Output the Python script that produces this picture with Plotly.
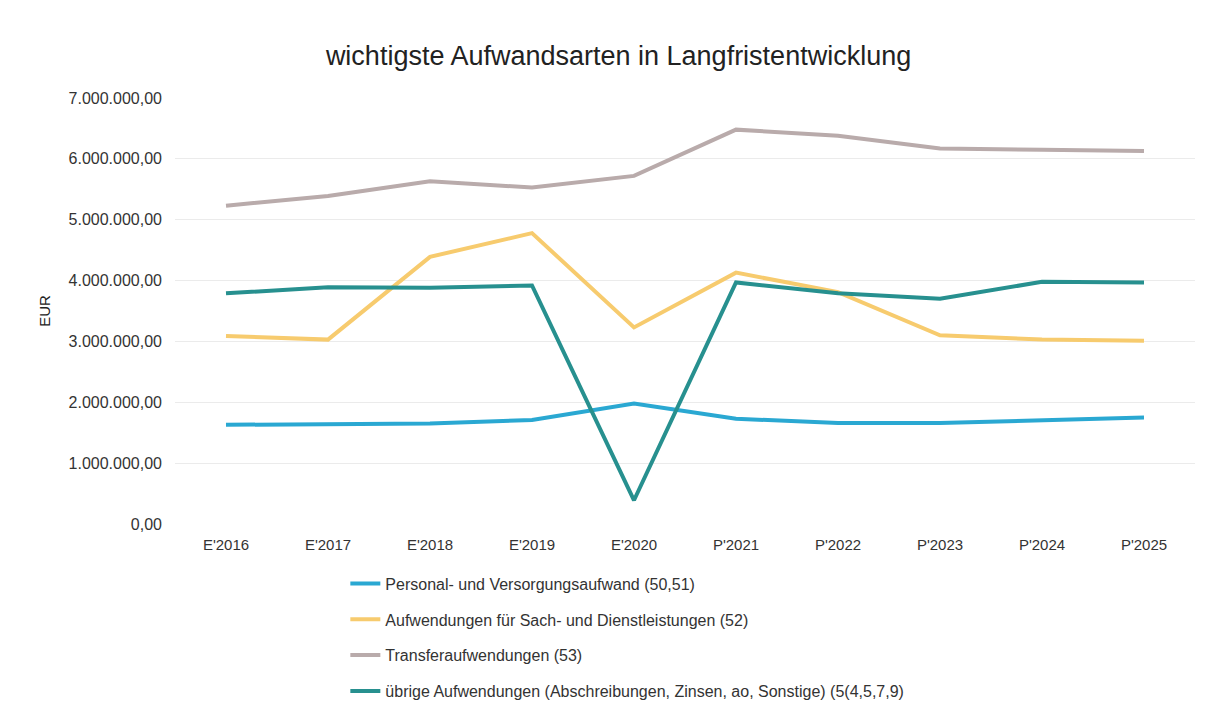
import plotly.graph_objects as go

categories = ["E'2016", "E'2017", "E'2018", "E'2019", "E'2020",
              "P'2021", "P'2022", "P'2023", "P'2024", "P'2025"]

personal = [1630000, 1640000, 1650000, 1710000, 1980000,
            1730000, 1660000, 1660000, 1700000, 1750000]
sach = [3090000, 3030000, 4390000, 4780000, 3230000,
        4130000, 3810000, 3100000, 3030000, 3010000]
transfer = [5230000, 5390000, 5630000, 5530000, 5720000,
            6480000, 6380000, 6170000, 6150000, 6130000]
uebrige = [3790000, 3890000, 3880000, 3920000, 390000,
           3970000, 3790000, 3700000, 3980000, 3970000]

names = ["Personal- und Versorgungsaufwand (50,51)",
         "Aufwendungen für Sach- und Dienstleistungen (52)",
         "Transferaufwendungen (53)",
         "übrige Aufwendungen (Abschreibungen, Zinsen, ao, Sonstige) (5(4,5,7,9)"]
colors = ["#2AA8D2", "#F7CB6E", "#B9ABAB", "#27908F"]
series = [personal, sach, transfer, uebrige]

fig = go.Figure()
for i, (n, c, s) in enumerate(zip(names, colors, series)):
    fig.add_trace(go.Scatter(x=categories, y=s, name=n, mode="lines",
                             line=dict(color=c, width=4),
                             legendgroup=f"g{i}"))

fig.update_layout(
    width=1209, height=714,
    paper_bgcolor="white", plot_bgcolor="white",
    separators=",.",
    margin=dict(l=167, r=22, t=90, b=198),
    font=dict(family="Liberation Sans, Arial, sans-serif", color="#333333", size=15),
    title=dict(text="wichtigste Aufwandsarten in Langfristentwicklung",
               x=0.505, xanchor="center", y=0.934, yanchor="middle",
               font=dict(size=27, color="#222222")),
    xaxis=dict(type="category", range=[-0.5, 9.5], showgrid=False,
               showline=False, zeroline=False, ticks="", ticklabelstandoff=10,
               tickfont=dict(size=15, color="#333333")),
    yaxis=dict(range=[0, 7000000], dtick=1000000, tickformat=",.2f",
               gridcolor="#EBEBEB", gridwidth=1, zeroline=False,
               showline=False, ticks="", ticklabelstandoff=12,
               title=dict(text="EUR", font=dict(size=15, color="#222222"), standoff=14),
               tickfont=dict(size=16, color="#333333")),
    legend=dict(orientation="v", x=0.167, xanchor="left", y=-0.1, yanchor="top",
                font=dict(size=16, color="#333333"), tracegroupgap=12,
                traceorder="grouped", bgcolor="rgba(0,0,0,0)"),
    showlegend=True,
)

fig.write_html("out.html")
